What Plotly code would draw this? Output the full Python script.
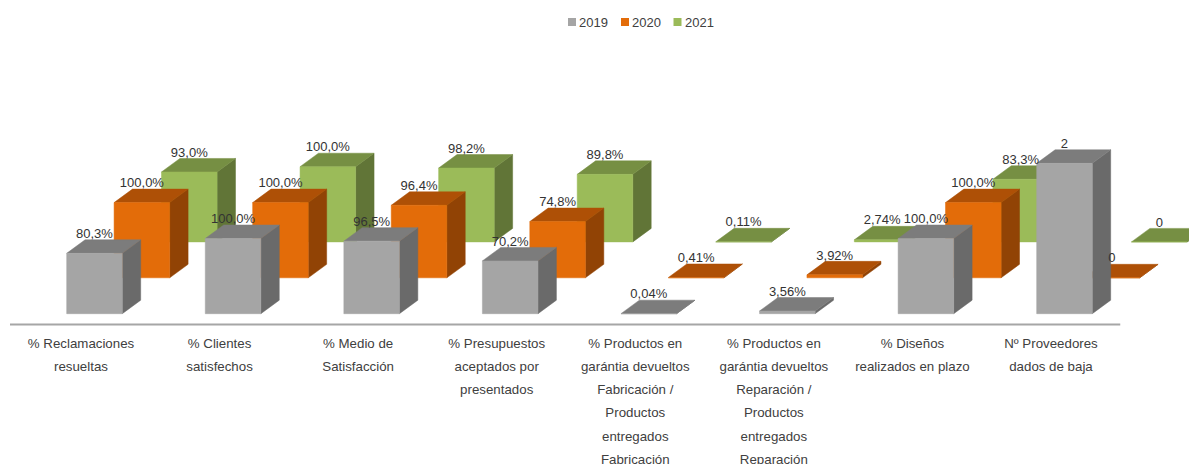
import plotly.graph_objects as go

categories = [
    ["% Reclamaciones", "resueltas"],
    ["% Clientes", "satisfechos"],
    ["% Medio de", "Satisfacción"],
    ["% Presupuestos", "aceptados por", "presentados"],
    ["% Productos en", "garántia devueltos", "Fabricación /", "Productos", "entregados", "Fabricación"],
    ["% Productos en", "garántia devueltos", "Reparación /", "Productos", "entregados", "Reparación"],
    ["% Diseños", "realizados en plazo"],
    ["Nº Proveedores", "dados de baja"],
]

years = ["2019", "2020", "2021"]

values_2019 = [0.803, 1.0, 0.965, 0.702, 0.0004, 0.0356, 1.0, 2]
values_2020 = [1.0, 1.0, 0.964, 0.748, 0.0041, 0.0392, 1.0, 0]
values_2021 = [0.93, 1.0, 0.982, 0.898, 0.0011, 0.0274, 0.833, 0]

labels_2019 = ["80,3%", "100,0%", "96,5%", "70,2%", "0,04%", "3,56%", "100,0%", "2"]
labels_2020 = ["100,0%", "100,0%", "96,4%", "74,8%", "0,41%", "3,92%", "100,0%", "0"]
labels_2021 = ["93,0%", "100,0%", "98,2%", "89,8%", "0,11%", "2,74%", "83,3%", "0"]

series_values = [values_2019, values_2020, values_2021]
series_labels = [labels_2019, labels_2020, labels_2021]

# front, top, side
colors = [
    ("#A5A5A5", "#7C7C7C", "#6A6A6A"),
    ("#E36C09", "#AE5006", "#914305"),
    ("#9BBB59", "#768F43", "#617537"),
]

fig_w = 1189
fig_h = 464
plot_h = 326

# pixel scale of the axes, everything below goes through these
px_x = 138.57
px_y = 75.2
x_origin = 11.7
y_origin = 313.7

bar_left = -14.3 / px_x
bar_w = 55.6 / px_x
step_x = 47.4 / px_x
step_y = 35.9 / px_y
depth_x = 18.4 / px_x
depth_y = 13.5 / px_y
label_up = 18.6 / px_y


def faces(values, s):
    front_x, front_y, top_x, top_y, side_x, side_y = [], [], [], [], [], []
    for i, v in enumerate(values):
        x0 = i + 0.5 + bar_left + s * step_x
        x1 = x0 + bar_w
        y0 = s * step_y
        y1 = y0 + v
        front_x += [x0, x1, x1, x0, x0, None]
        front_y += [y0, y0, y1, y1, y0, None]
        top_x += [x0, x1, x1 + depth_x, x0 + depth_x, x0, None]
        top_y += [y1, y1, y1 + depth_y, y1 + depth_y, y1, None]
        side_x += [x1, x1 + depth_x, x1 + depth_x, x1, x1, None]
        side_y += [y0, y0 + depth_y, y1 + depth_y, y1, y0, None]
    return (front_x, front_y), (top_x, top_y), (side_x, side_y)


fig = go.Figure()

# back row first so the 2019 bars sit in front
for s in [2, 1, 0]:
    front, top, side = faces(series_values[s], s)
    for (xs, ys), color in zip([side, top, front], [colors[s][2], colors[s][1], colors[s][0]]):
        fig.add_trace(go.Scatter(
            x=xs, y=ys, mode="lines", fill="toself", fillcolor=color,
            line=dict(color=color, width=0.5),
            hoverinfo="skip", showlegend=False, name=years[s],
        ))

for s in [2, 1, 0]:
    fig.add_trace(go.Scatter(
        x=[i + 0.5 + bar_left + bar_w / 2 + s * step_x for i in range(8)],
        y=[v + s * step_y + label_up for v in series_values[s]],
        mode="text",
        text=series_labels[s],
        textposition="middle center",
        textfont=dict(size=13, color="#333333"),
        hoverinfo="skip", showlegend=False, name=years[s],
    ))

# legend drawn by hand, the plotly one can't get this compact
legend_x = [568, 621, 673.5]
for name, lx, c in zip(years, legend_x, colors):
    fig.add_shape(type="rect", xref="paper", yref="paper",
                  x0=lx / fig_w, x1=(lx + 8) / fig_w,
                  y0=1 - 26 / plot_h, y1=1 - 18 / plot_h,
                  fillcolor=c[0], line_width=0)
    fig.add_annotation(xref="paper", yref="paper", x=(lx + 9) / fig_w, y=1 - 22.5 / plot_h,
                       text=name, showarrow=False, xanchor="left", yanchor="middle",
                       font=dict(size=13, color="#404040"))

fig.add_shape(type="line", xref="x", yref="y",
              x0=-1.7 / px_x, x1=8, y0=-10.8 / px_y, y1=-10.8 / px_y,
              line=dict(color="#A6A6A6", width=2))

# outer font sets the line pitch (1.3em = 23.2px), the span sets the real size
ticktext = ["<br>".join(f'<span style="font-size:13.3px">{t}</span>' for t in lines) for lines in categories]

fig.update_layout(
    width=fig_w, height=fig_h,
    margin=dict(l=0, r=0, t=0, b=fig_h - plot_h),
    paper_bgcolor="#FFFFFF", plot_bgcolor="#FFFFFF",
    font=dict(family="Liberation Sans, Arial, sans-serif", color="#404040", size=13),
    showlegend=False,
    xaxis=dict(
        range=[-x_origin / px_x, (fig_w - x_origin) / px_x],
        tickmode="array",
        tickvals=[i + 0.5 for i in range(8)],
        ticktext=ticktext,
        tickangle=0,
        tickfont=dict(size=17.85, color="#404040"),
        ticklabeloverflow="allow",
        ticklabelstandoff=3,
        ticks="",
        automargin=False,
        showgrid=False, zeroline=False, showline=False,
        fixedrange=True,
    ),
    yaxis=dict(
        range=[(y_origin - plot_h) / px_y, y_origin / px_y],
        visible=False,
        automargin=False,
        fixedrange=True,
    ),
)

# no page margin or scrollbar, the figure fills the window
fig.write_html(
    "out.html",
    config={"displayModeBar": False},
    post_script="document.body.style.margin='0';document.documentElement.style.overflow='hidden';",
)
